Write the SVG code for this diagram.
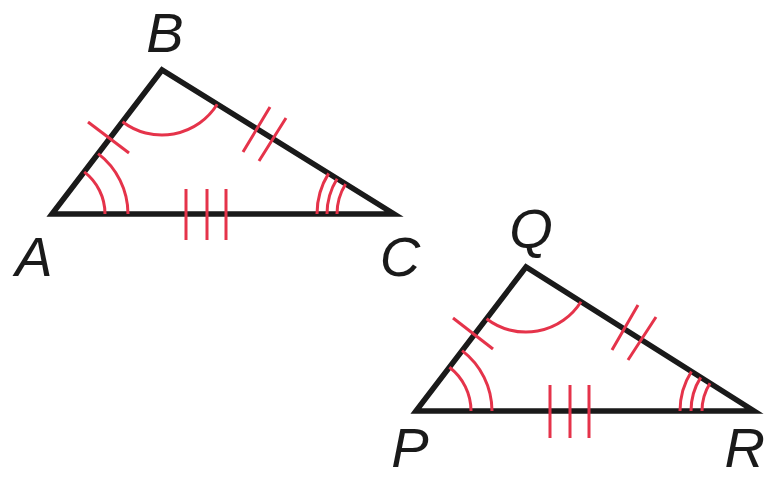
<svg xmlns="http://www.w3.org/2000/svg" width="766" height="479" viewBox="0 0 766 479">
<style>
.edge{fill:none;stroke:#1a1a1a;stroke-width:5.5;stroke-linejoin:miter;stroke-miterlimit:6}
.mk{fill:none;stroke:#e5334a;stroke-width:3;stroke-linecap:butt}
.lbl{font-family:"Liberation Sans",Arial,sans-serif;font-style:italic;font-size:56px;fill:#1a1a1a;text-anchor:middle}
</style>
<rect width="766" height="479" fill="#ffffff"/>
<g id="triangle-ABC">
  <polygon class="edge" points="52,214 162,70 394,214"/>
  <path class="mk" d="M105,214 A53,53 0 0 0 84.2,171.9 M128,214 A76,76 0 0 0 98.1,153.6"/>
  <path class="mk" d="M122.5,121.7 A65,65 0 0 0 217.2,104.3"/>
  <path class="mk" d="M337,214 A57,57 0 0 1 345.6,184 M327,214 A67,67 0 0 1 337.1,178.7 M317,214 A77,77 0 0 1 328.6,173.4"/>
  <path class="mk" d="M88,122 L129,153"/>
  <path class="mk" d="M243,152 L270,107 M259,161 L286,118"/>
  <path class="mk" d="M186,189 V240 M207,189 V240 M226,189 V240"/>
  <text class="lbl" x="165" y="52">B</text>
  <text class="lbl" x="34" y="276">A</text>
  <text class="lbl" x="400" y="276">C</text>
</g>
<g id="triangle-PQR">
  <polygon class="edge" points="416,411 526,267 754,411"/>
  <path class="mk" d="M471,411 A55,55 0 0 0 449.4,367.3 M492,411 A76,76 0 0 0 462.1,350.6"/>
  <path class="mk" d="M486.5,318.7 A65,65 0 0 0 581,301.7"/>
  <path class="mk" d="M702,411 A52,52 0 0 1 710,383.2 M691,411 A63,63 0 0 1 700.7,377.4 M680,411 A74,74 0 0 1 691.4,371.5"/>
  <path class="mk" d="M453,318 L493,349"/>
  <path class="mk" d="M612,350 L638,305 M628,360 L656,317"/>
  <path class="mk" d="M550,385 V438 M570,385 V438 M589,385 V438"/>
  <text class="lbl" x="531" y="248">Q</text>
  <text class="lbl" x="410" y="467">P</text>
  <text class="lbl" x="765" y="467" style="text-anchor:end">R</text>
</g>
</svg>
